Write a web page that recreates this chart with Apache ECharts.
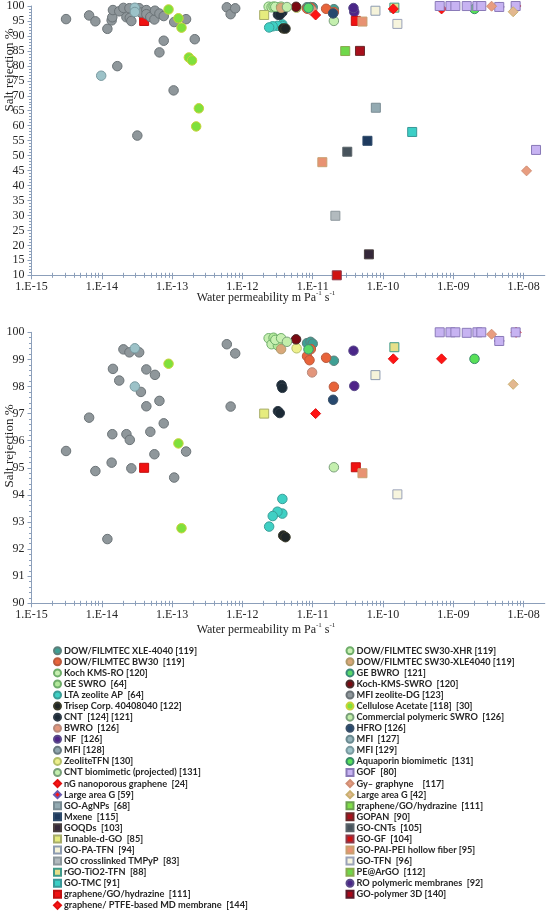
<!DOCTYPE html>
<html><head><meta charset="utf-8">
<script src="https://cdn.jsdelivr.net/npm/echarts@6/dist/echarts.min.js"></script>
<style>html,body{margin:0;padding:0;background:#fff}#c{width:546px;height:912px}</style>
</head><body><div id="c"></div>
<script>
// ---------- tick labels ----------
const xTickValues = [1e-15, 1e-14, 1e-13, 1e-12, 1e-11, 1e-10, 1e-9, 1e-8];
const xTickLabels = ['1.E-15', '1.E-14', '1.E-13', '1.E-12', '1.E-11', '1.E-10', '1.E-09', '1.E-08'];
const yTopRange = [10, 100];
const yBottomRange = [90, 100];

// ---------- data: [water permeability (m Pa^-1 s^-1), salt rejection %] ----------
const dowXle4040 = [[8.3e-12, 99.6], [9.3e-12, 99.65], [1.0e-11, 99.58], [2.0e-11, 98.95]];
const dowBw30 = [[9.4e-12, 99.38], [8.3e-12, 99.12], [9.0e-12, 98.97], [1.55e-11, 99.06], [2.0e-11, 97.99]];
const kochKmsRo = [[2.36e-12, 99.78], [2.6e-12, 99.56]];
const geSwro = [[2.77e-12, 99.8], [3.2e-12, 99.51]];
const ltaZeolite = [[3.7e-12, 93.85], [3.7e-12, 93.31], [3.15e-12, 93.38], [2.7e-12, 93.22], [2.4e-12, 92.83]];
const trisep = [[3.8e-12, 92.5], [4.1e-12, 92.44]];
const cnt = [[3.6e-12, 98.05], [3.7e-12, 97.95], [3.2e-12, 97.09], [3.4e-12, 97.02]];
const bwro = [[9.8e-12, 98.52]];
const nf = [[3.9e-11, 98.02]];
const mfi128 = [];
const zeoliteTfn = [[5.9e-12, 99.41]];
const cntBiomimetic = [[2.0e-11, 95.02]];
const nGraphene = [[1.1e-11, 97.0]];
const largeAreaG59 = [[4.5e-9, 99.68]];
const goAgNPs = [[7.9e-11, 66.0]];
const mxene = [[6.0e-11, 54.95]];
const goqds = [[6.3e-11, 17.0]];
const tunableGO = [[2.04e-12, 97.0]];
const goPaTfn = [[7.8e-11, 98.42]];
const goTmpyp = [[2.1e-11, 29.9]];
const rgoTio2 = [[1.45e-10, 99.45]];
const goTmc = [[2.6e-10, 57.9]];
const grapheneGoHydrazineRed = [[4.0e-14, 95.0], [4.1e-11, 95.02]];
const graphenePtfe = [[1.4e-10, 99.02], [6.8e-10, 99.02], [7.8e-9, 100]];

const sw30Xhr = [[2.94e-12, 99.72], [3.55e-12, 99.78]];
const sw30Xle = [[3.55e-12, 99.38]];
const geBwro = [[8.7e-12, 99.37]];
const kochKmsSwro = [[5.8e-12, 99.74]];
const mfiZeoliteDG = [[3.1e-15, 95.62], [6.6e-15, 96.85], [8.1e-15, 94.88], [1.2e-14, 92.37], [1.38e-14, 95.19],
  [1.41e-14, 96.24], [1.44e-14, 98.65], [1.77e-14, 98.22], [2.03e-14, 99.37], [2.24e-14, 96.24], [2.47e-14, 99.26],
  [2.5e-14, 96.03], [2.63e-14, 94.98], [3.4e-14, 99.26], [3.6e-14, 97.8], [4.3e-14, 98.63], [4.3e-14, 97.27],
  [4.9e-14, 96.33], [5.6e-14, 95.5], [5.7e-14, 98.43], [6.6e-14, 97.47], [7.6e-14, 96.64], [1.07e-13, 94.64],
  [1.58e-13, 95.6], [6.0e-13, 99.56], [6.8e-13, 97.26], [7.9e-13, 99.22],
  [1.66e-14, 79.9], [3.2e-14, 56.7], [6.6e-14, 84.5], [7.6e-14, 88.4], [1.05e-13, 71.8], [2.1e-13, 88.9]];
const celluloseAcetate = [[8.9e-14, 98.84], [1.23e-13, 95.9], [1.36e-13, 92.77], [1.73e-13, 82.8], [1.92e-13, 81.8],
  [2.4e-13, 65.8], [2.2e-13, 59.75]];
const commercialSwro = [[4.3e-12, 99.65]];
const hfro = [[1.95e-11, 97.51]];
const mfi127 = [];
const mfi129 = [[2.95e-14, 99.41], [2.95e-14, 98.0], [9.8e-15, 76.7]];
const aquaporin = [[2.0e-9, 99.02]];
const gof = [[6.4e-10, 100], [9.1e-10, 100], [1.07e-9, 100], [1.55e-9, 99.98], [2.2e-9, 100], [2.5e-9, 100],
  [4.5e-9, 99.68], [7.7e-9, 100], [1.5e-8, 51.9]];
const gyGraphyne = [[3.5e-9, 99.93], [1.1e-8, 44.9]];
const largeAreaG42 = [[7.1e-9, 98.08]];
const grapheneGoHydrazineGreen = [];
const gopan = [[4.7e-11, 85.0]];
const goCnts = [[3.1e-11, 51.3]];
const goGf = [[2.2e-11, 10]];
const goPaiPei = [[5.1e-11, 94.8], [1.37e-11, 47.8]];
const goTfn = [[1.6e-10, 94.02]];
const peArgo = [[2.9e-11, 84.95]];
const roPolymeric = [[3.8e-11, 99.32]];
const goPolymer3d = [];

// ---------- series definitions ----------
const leftCol = [
  ['DOW/FILMTEC XLE-4040 [119]', dowXle4040, 'circle', '#3f9f94', '#5c7f7a'],
  ['DOW/FILMTEC BW30  [119]', dowBw30, 'circle', '#e8643a', '#b85a3e'],
  ['Koch KMS-RO [120]', kochKmsRo, 'circle', '#c6efb0', '#6fae6a'],
  ['GE SWRO  [64]', geSwro, 'circle', '#b2e89a', '#6fae6a'],
  ['LTA zeolite AP  [64]', ltaZeolite, 'circle', '#3fd0c4', '#3a9e98'],
  ['Trisep Corp. 40408040 [122]', trisep, 'circle', '#1f2626', '#3b3b2a'],
  ['CNT  [124] [121]', cnt, 'circle', '#1c2a36', '#303c48'],
  ['BWRO  [126]', bwro, 'circle', '#e3967c', '#b88a7c'],
  ['NF  [126]', nf, 'circle', '#4f2489', '#5a4a8a'],
  ['MFI [128]', mfi128, 'circle', '#8fa6ae', '#6a7a80'],
  ['ZeoliteTFN [130]', zeoliteTfn, 'circle', '#eef08c', '#b4bf6a'],
  ['CNT biomimetic (projected) [131]', cntBiomimetic, 'circle', '#c4efae', '#7aa07a'],
  ['nG nanoporous graphene  [24]', nGraphene, 'diamond', '#ff1414', '#e01010'],
  ['Large area G [59]', largeAreaG59, 'diamond', '#ff1414', '#6a5ab0'],
  ['GO-AgNPs  [68]', goAgNPs, 'rect', '#93aab2', '#7a8c94'],
  ['Mxene  [115]', mxene, 'rect', '#1e3a5e', '#2e4a6a'],
  ['GOQDs  [103]', goqds, 'rect', '#35283a', '#4a4040'],
  ['Tunable-d-GO  [85]', tunableGO, 'rect', '#e6ec7e', '#a8ad6a'],
  ['GO-PA-TFN  [94]', goPaTfn, 'rect', '#f5f3da', '#8d9bb0'],
  ['GO crosslinked TMPyP  [83]', goTmpyp, 'rect', '#b2babe', '#8c979c'],
  ['rGO-TiO2-TFN  [88]', rgoTio2, 'rect', '#e6e08a', '#3f9a8a'],
  ['GO-TMC [91]', goTmc, 'rect', '#3ccfc6', '#3a9898'],
  ['graphene/GO/hydrazine  [111]', grapheneGoHydrazineRed, 'rect', '#f01212', '#c01010'],
  ['graphene/ PTFE-based MD membrane  [144]', graphenePtfe, 'diamond', '#ff1414', '#e01010']
];
const rightCol = [
  ['DOW/FILMTEC SW30-XHR [119]', sw30Xhr, 'circle', '#c8f0b2', '#6fae6a'],
  ['DOW/FILMTEC SW30-XLE4040 [119]', sw30Xle, 'circle', '#d9a87a', '#b09a6a'],
  ['GE BWRO  [121]', geBwro, 'circle', '#5ad86a', '#3a8a7a'],
  ['Koch-KMS-SWRO  [120]', kochKmsSwro, 'circle', '#7a0a12', '#4a2a2a'],
  ['MFI zeolite-DG [123]', mfiZeoliteDG, 'circle', '#8f979b', '#6b7377'],
  ['Cellulose Acetate [118]  [30]', celluloseAcetate, 'circle', '#7fe03c', '#c8d23a'],
  ['Commercial polymeric SWRO  [126]', commercialSwro, 'circle', '#c2eeaa', '#7aa07a'],
  ['HFRO [126]', hfro, 'circle', '#27496e', '#3a5068'],
  ['MFI  [127]', mfi127, 'circle', '#93b2ba', '#6a8a90'],
  ['MFI [129]', mfi129, 'circle', '#9cc2c8', '#7a9aa0'],
  ['Aquaporin biomimetic  [131]', aquaporin, 'circle', '#58e058', '#3a8a6a'],
  ['GOF  [80]', gof, 'rect', '#c7b3f2', '#8a7ab8'],
  ['Gy\u2013 graphyne    [117]', gyGraphyne, 'diamond', '#e89d80', '#d08e74'],
  ['Large area G [42]', largeAreaG42, 'diamond', '#e3b890', '#c9b070'],
  ['graphene/GO/hydrazine  [111]\u200b', grapheneGoHydrazineGreen, 'rect', '#80de4a', '#6aa050'],
  ['GOPAN  [90]', gopan, 'rect', '#a8101c', '#6a2a2a'],
  ['GO-CNTs  [105]', goCnts, 'rect', '#47535c', '#5a646a'],
  ['GO-GF  [104]', goGf, 'rect', '#d01212', '#8a3a4a'],
  ['GO-PAI-PEI hollow fiber [95]', goPaiPei, 'rect', '#e89272', '#c8a070'],
  ['GO-TFN  [96]', goTfn, 'rect', '#f7f5de', '#9aa2b8'],
  ['PE@ArGO  [112]', peArgo, 'rect', '#6fd84a', '#8aaa50'],
  ['RO polymeric membranes  [92]', roPolymeric, 'circle', '#4a2688', '#5a4a8a'],
  ['GO-polymer 3D [140]', goPolymer3d, 'rect', '#a80818', '#5a1a2a']
];

// ---------- axes ----------
const xMin = 1e-15, xMax = 2e-8;
const minorTicks = [];
xTickValues.forEach(m => { for (let k = 2; k <= 9; k++) { const v = m * k; if (v < xMax) minorTicks.push(v); } });
const axisColor = '#8c9fba';
const labelFont = { fontFamily: 'Liberation Serif', fontSize: 12, color: '#262626' };

function fmtX(v) {
  const i = xTickValues.findIndex(t => Math.abs(Math.log10(t) - Math.log10(v)) < 1e-6);
  return i >= 0 ? xTickLabels[i] : '';
}
function xAxesFor(grid) {
  const base = { type: 'log', gridIndex: grid, min: xMin, max: xMax, logBase: 10, position: 'bottom', offset: 0,
    splitLine: { show: false }, minorTick: { show: false } };
  return [
    Object.assign({}, base, {
      axisLine: { lineStyle: { color: axisColor, width: 1 } },
      axisTick: { customValues: xTickValues, length: 4, lineStyle: { color: axisColor } },
      axisLabel: Object.assign({ customValues: xTickValues, formatter: fmtX, margin: 6 }, labelFont) }),
    Object.assign({}, base, {
      axisLine: { show: false },
      axisTick: { customValues: minorTicks, length: 2.5, lineStyle: { color: axisColor } },
      axisLabel: { show: false } }),
    Object.assign({}, base, {
      axisLine: { show: false },
      axisTick: { customValues: xTickValues.concat(minorTicks), inside: true, length: 2.5, lineStyle: { color: axisColor } },
      axisLabel: { show: false } })
  ];
}
function yAxisFor(grid, range, interval) {
  return { type: 'value', gridIndex: grid, min: range[0], max: range[1], interval: interval, position: 'left',
    axisLine: { show: true, lineStyle: { color: axisColor } },
    axisTick: { show: true, length: 4, lineStyle: { color: axisColor } },
    minorTick: { show: true, splitNumber: 5, length: 2.5, lineStyle: { color: axisColor } },
    axisLabel: Object.assign({ margin: 7 }, labelFont),
    splitLine: { show: false } };
}

const series = [];
[leftCol, rightCol].forEach(col => col.forEach(([name, data, symbol, color, border]) => {
  [0, 1].forEach(g => {
    series.push({ name: name, type: 'scatter', xAxisIndex: g * 3, yAxisIndex: g, data: data,
      symbol: symbol, symbolSize: symbol === 'diamond' ? 10 : (symbol === 'rect' ? 9 : 9.5),
      clip: true,
      itemStyle: { color: color, borderColor: border, borderWidth: 1, opacity: 1 },
      emphasis: { disabled: true } });
  });
}));

const legendCommon = { orient: 'vertical', itemWidth: 7, itemHeight: 7, itemGap: 0, padding: 0,
  selectedMode: false,
  textStyle: { fontFamily: 'Lato', fontWeight: 'bold', fontSize: 9.2, color: '#262626', lineHeight: 11.07,
    padding: [0, 0, 0, -2] } };

const chart = echarts.init(document.getElementById('c'), null, { renderer: 'canvas' });
chart.setOption({
  animation: false,
  grid: [
    { left: 31.5, right: 1.2, top: 6, height: 269.3 },
    { left: 31.5, right: 1.2, top: 332.3, height: 271 }
  ],
  xAxis: xAxesFor(0).concat(xAxesFor(1)),
  yAxis: [yAxisFor(0, yTopRange, 5), yAxisFor(1, yBottomRange, 1)],
  legend: [
    Object.assign({ left: 53, top: 645.2, data: leftCol.map(r => r[0]) }, legendCommon),
    Object.assign({ left: 345.5, top: 645.2, data: rightCol.map(r => r[0]) }, legendCommon)
  ],
  graphic: [
    { type: 'text', x: 266, y: 297, style: { text: '{a|Water permeability m Pa}{s|-1}{a| s}{s|-1}',
      align: 'center', verticalAlign: 'middle',
      rich: { a: { fontFamily: 'Liberation Serif', fontSize: 12, fill: '#222', lineHeight: 14, verticalAlign: 'bottom' },
              s: { fontFamily: 'Liberation Serif', fontSize: 7, fill: '#222', lineHeight: 8, verticalAlign: 'top' } } } },
    { type: 'text', x: 266, y: 629, style: { text: '{a|Water permeability m Pa}{s|-1}{a| s}{s|-1}',
      align: 'center', verticalAlign: 'middle',
      rich: { a: { fontFamily: 'Liberation Serif', fontSize: 12, fill: '#222', lineHeight: 14, verticalAlign: 'bottom' },
              s: { fontFamily: 'Liberation Serif', fontSize: 7, fill: '#222', lineHeight: 8, verticalAlign: 'top' } } } },
    { type: 'text', x: 10, y: 70, rotation: Math.PI / 2, style: { text: 'Salt rejection %', align: 'center',
      verticalAlign: 'middle', font: '13px "Liberation Serif"', fill: '#222' } },
    { type: 'text', x: 10, y: 446, rotation: Math.PI / 2, style: { text: 'Salt rejection %', align: 'center',
      verticalAlign: 'middle', font: '13px "Liberation Serif"', fill: '#222' } }
  ],
  series: series
});
</script></body></html>
